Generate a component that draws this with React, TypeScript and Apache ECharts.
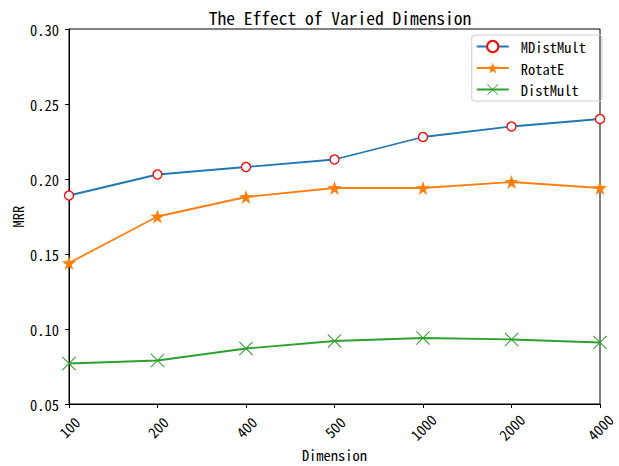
import React, { useEffect, useRef } from "react";
import * as echarts from "echarts";

const categories = ["100", "200", "400", "500", "1000", "2000", "4000"];
const mDistMult = [0.189, 0.203, 0.208, 0.213, 0.228, 0.235, 0.24];
const rotatE = [0.144, 0.175, 0.188, 0.194, 0.194, 0.198, 0.194];
const distMult = [0.077, 0.079, 0.087, 0.092, 0.094, 0.093, 0.091];

const FONT = "'Noto Sans Mono CJK SC', 'Noto Sans CJK SC', 'DejaVu Sans Mono', monospace";
const X_SYMBOL = "path://M0,0.5 L0.5,0 L10,9.5 L9.5,10 Z M9.5,0 L10,0.5 L0.5,10 L0,9.5 Z";
const STAR = "path://M50,0 L61.8,36.2 L100,38.2 L69.1,61.8 L80.9,100 L50,77.6 L19.1,100 L30.9,61.8 L0,38.2 L38.2,36.2 Z";

export default function App() {
  const ref = useRef<HTMLDivElement>(null);
  useEffect(() => {
    const chart = echarts.init(ref.current!, null, { renderer: "svg" });
    chart.setOption({
      animation: false,
      textStyle: { fontFamily: FONT },
      title: {
        text: "The Effect of Varied Dimension",
        left: 335,
        textAlign: "center",
        top: 4,
        textStyle: { fontFamily: FONT, fontSize: 17.5, fontWeight: "normal", color: "#000" },
      },
      grid: {
        left: 69,
        right: 19,
        top: 29,
        bottom: 62,
        containLabel: false,
        outerBoundsMode: "none",
        show: true,
        borderColor: "#000",
        borderWidth: 1,
      },
      legend: {
        orient: "vertical",
        right: 17,
        top: 35,
        itemWidth: 32,
        itemHeight: 14,
        itemGap: 5.5,
        padding: [3.5, 16, 3.5, 4],
        borderColor: "#ccc",
        borderWidth: 1,
        borderRadius: 3,
        textStyle: { fontFamily: FONT, fontSize: 14.5, lineHeight: 16, color: "#000", padding: [0, 0, 0, 7] },
        data: ["MDistMult", "RotatE", "DistMult"],
      },
      xAxis: {
        type: "category",
        data: categories,
        boundaryGap: false,
        name: "Dimension",
        nameLocation: "middle",
        nameGap: 43,
        nameMoveOverlap: false,
        nameTextStyle: { fontFamily: FONT, fontSize: 14.5, color: "#000" },
        axisLine: { lineStyle: { color: "#000" } },
        axisTick: { alignWithLabel: true, length: 4, lineStyle: { color: "#000" } },
        axisLabel: {
          rotate: 45,
          align: "center",
          verticalAlign: "middle",
          color: "#000",
          fontSize: 14.5,
          fontFamily: FONT,
          margin: 23,
        },
        splitLine: { show: false },
      },
      yAxis: {
        type: "value",
        min: 0.05,
        max: 0.3,
        interval: 0.05,
        name: "MRR",
        nameLocation: "middle",
        nameGap: 44,
        nameMoveOverlap: false,
        nameTextStyle: { fontFamily: FONT, fontSize: 14.5, color: "#000" },
        axisLine: { show: true, lineStyle: { color: "#000" } },
        axisTick: { show: true, length: 4, lineStyle: { color: "#000" } },
        axisLabel: { color: "#000", fontSize: 14.5, fontFamily: FONT, margin: 10, formatter: (v: number) => v.toFixed(2) },
        splitLine: { show: false },
      },
      series: [
        {
          name: "MDistMult",
          type: "line",
          data: mDistMult,
          symbol: "circle",
          symbolSize: 9,
          showAllSymbol: true,
          lineStyle: { color: "#1f77b4", width: 1.8 },
          itemStyle: { color: "#fff", borderColor: "#ff0000", borderWidth: 1.3 },
        },
        {
          name: "RotatE",
          type: "line",
          data: rotatE,
          symbol: STAR,
          symbolSize: 14,
          showAllSymbol: true,
          lineStyle: { color: "#ff7f0e", width: 1.8 },
          itemStyle: { color: "#ff7f0e", borderWidth: 0 },
        },
        {
          name: "DistMult",
          type: "line",
          data: distMult,
          symbol: X_SYMBOL,
          symbolSize: 14,
          showAllSymbol: true,
          lineStyle: { color: "#2ca02c", width: 1.8 },
          itemStyle: { color: "#2ca02c", borderWidth: 0 },
        },
      ],
    });
    return () => chart.dispose();
  }, []);
  return <div ref={ref} style={{ width: 619, height: 466, position: "absolute", left: 0, top: 0 }} />;
}
